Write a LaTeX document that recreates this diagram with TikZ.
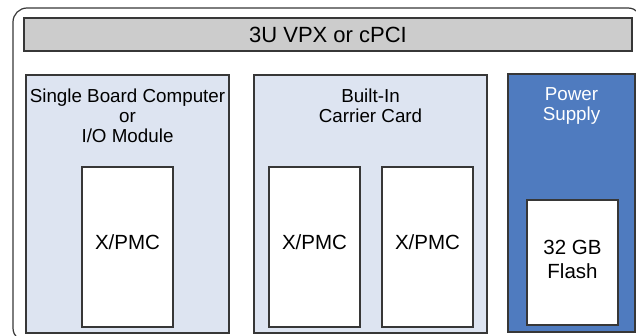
\documentclass[tikz,border=0pt]{standalone}
\usepackage{fontspec}
\setmainfont{Liberation Sans}
\usetikzlibrary{positioning}

\definecolor{gris}{RGB}{204,204,204}
\definecolor{celeste}{RGB}{221,228,241}
\definecolor{azul}{RGB}{79,123,191}
\definecolor{borde}{RGB}{55,55,55}

\begin{document}
\begin{tikzpicture}[x=1pt, y=-1pt, line width=1.2pt, inner sep=0pt, outer sep=0pt]
				\tikzset{every node/.style={font=\fontsize{18.8}{20}\selectfont}}
				\tikzstyle{tarjeta}=[draw=borde, fill=celeste, minimum height=258pt, anchor=north west]
				\tikzstyle{modulo}=[draw=borde, fill=white, minimum width=91pt, anchor=north west, font=\fontsize{20.5}{24.7}\selectfont]
				\tikzstyle{titulo}=[align=center, anchor=north]

				\clip[use as bounding box] (0,0) rectangle (636,335);

				%CHASIS
				\node[draw=borde, rounded corners=14pt, minimum width=629pt, minimum height=334pt, anchor=north west]	(chasis) at (13,8)	{};
				\node[draw=borde, fill=gris, minimum width=608pt, minimum height=33pt, anchor=north west, font=\fontsize{22}{24}\selectfont]	(bus) at (24,18)	{3U VPX or cPCI};

				%TARJETAS
				\node[tarjeta, minimum width=203pt]		(sbc) at (26,75)		{};
				\node[tarjeta, minimum width=233pt]		(portadora) at (254,75)	{};
				\node[tarjeta, minimum width=127pt, fill=azul]	(fuente) at (508,74)	{};

				\node[titulo]				(sbctxt) [below=14pt of sbc.north]		{Single Board Computer\\or\\I/O Module};
				\node[titulo]				(portadoratxt) [below=14pt of portadora.north]	{Built-In\\Carrier Card};
				\node[titulo, text=white]		(fuentetxt) [below=14pt of fuente.north]	{Power\\Supply};

				%MODULOS
				\node[modulo, minimum height=160pt, text depth=10pt]	(pmcA) at (82,167)	{X/PMC};
				\node[modulo, minimum height=160pt, text depth=10pt]	(pmcB) at (269,167)	{X/PMC};
				\node[modulo, minimum height=160pt, text depth=10pt]	(pmcC) at (382,167)	{X/PMC};
				\node[modulo, minimum height=125pt]			(flash) at (527,200)	{};
				\node[align=center, font=\fontsize{20.5}{24.7}\selectfont]	(flashtxt) at ([yshift=3pt]flash.center)	{32 GB\\Flash};
\end{tikzpicture}
\end{document}
